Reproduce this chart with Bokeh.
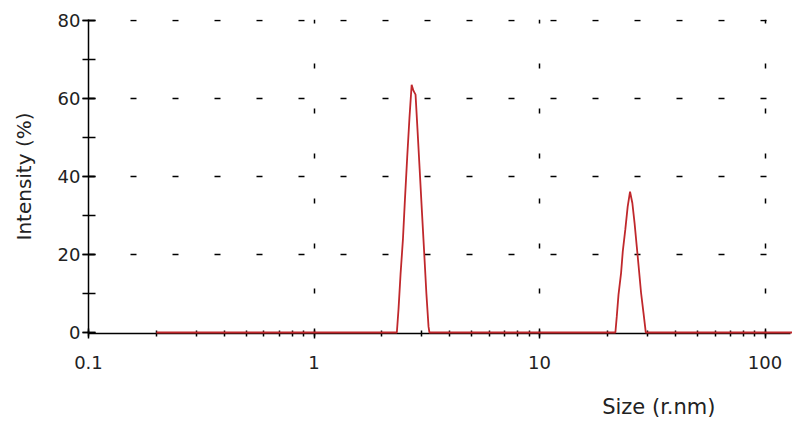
from bokeh.plotting import figure
from bokeh.models import Range1d, SingleIntervalTicker, FixedTicker, LogTicker, Title, ColumnDataSource
from bokeh.embed import file_html
from bokeh.resources import INLINE

# Size distribution by intensity
size_nm = [0.2, 2.33, 2.37, 2.42, 2.48, 2.53, 2.59, 2.65, 2.71, 2.76, 2.82, 2.88, 2.94, 3.01, 3.08, 3.15, 3.22, 3.25,
           21.7, 22.0, 22.4, 23.0, 23.4, 24.0, 24.6, 25.2, 25.8, 26.4, 27.0, 27.6, 28.2, 28.9, 29.6, 140.0]
intensity = [0, 0, 6, 15, 24, 34, 45, 55, 63.5, 62, 61, 51.5, 42, 31, 20.5, 10, 1.5, 0,
             0, 4, 9.7, 15.3, 20.8, 26.3, 32.3, 36.1, 33.2, 28, 22, 16.1, 10.2, 5.1, 0, 0]

x_tick_values = [0.1, 1, 10, 100]
x_tick_labels = ["0.1", "1", "10", "100"]
x_grid_ticks = [1, 10, 100]
y_grid_ticks = [20, 40, 60, 80]
x_label = "Size (r.nm)"
y_label = "Intensity (%)"

FONT = "DejaVu Sans"

p = figure(width=792, height=428, x_axis_type="log",
           x_range=Range1d(0.1, 129.7), y_range=Range1d(-0.25, 80.25),
           output_backend="svg", toolbar_location=None,
           min_border_left=88, min_border_right=2, min_border_top=19, min_border_bottom=95)
p.outline_line_color = None
p.background_fill_color = "white"
p.border_fill_color = "white"

src = ColumnDataSource(dict(x=size_nm, y=intensity))
r = p.line("x", "y", source=src, line_color="#c0282c", line_width=1.8)
r.level = "overlay"

# axes
p.xaxis.ticker = LogTicker(num_minor_ticks=10)
p.xaxis.major_label_overrides = {v: s for v, s in zip(x_tick_values, x_tick_labels)}
p.xaxis.major_tick_in = 5
p.xaxis.major_tick_out = 5
p.xaxis.minor_tick_in = 3
p.xaxis.minor_tick_out = 3
p.xaxis.major_label_standoff = 17
p.xaxis.major_label_text_font = FONT
p.xaxis.major_label_text_font_size = "18px"
p.xaxis.major_label_text_color = "#222222"
p.xaxis.axis_line_width = 1.5
p.xaxis.major_tick_line_width = 1.5
p.xaxis.minor_tick_line_width = 1.5

p.yaxis.ticker = SingleIntervalTicker(interval=20, num_minor_ticks=2)
p.yaxis.major_tick_in = 7
p.yaxis.major_tick_out = 6
p.yaxis.minor_tick_in = 7
p.yaxis.minor_tick_out = 6
p.yaxis.major_label_standoff = 2
p.yaxis.major_label_text_font = FONT
p.yaxis.major_label_text_font_size = "18px"
p.yaxis.major_label_text_color = "#222222"
p.yaxis.axis_line_width = 1.5
p.yaxis.major_tick_line_width = 1.5
p.yaxis.minor_tick_line_width = 1.5
p.yaxis.axis_label = y_label
p.yaxis.axis_label_text_font = FONT
p.yaxis.axis_label_text_font_size = "20px"
p.yaxis.axis_label_text_font_style = "normal"
p.yaxis.axis_label_text_color = "#222222"
p.yaxis.axis_label_standoff = 19

# grids
p.xgrid.ticker = FixedTicker(ticks=x_grid_ticks)
p.ygrid.ticker = FixedTicker(ticks=y_grid_ticks)
p.xgrid.grid_line_color = "black"
p.xgrid.grid_line_width = 1.5
p.xgrid.grid_line_dash = "5 40"
p.xgrid.grid_line_dash_offset = 5
p.ygrid.grid_line_color = "black"
p.ygrid.grid_line_width = 1.5
p.ygrid.grid_line_dash = "6 36"

p.add_layout(Title(text=x_label, align="right", offset=75, standoff=0,
                   padding=dict(left=0, right=0, top=21, bottom=0),
                   text_font=FONT, text_font_size="21px", text_font_style="normal",
                   text_color="#222222"), "below")

open("out.html", "w").write(file_html(p, INLINE))
